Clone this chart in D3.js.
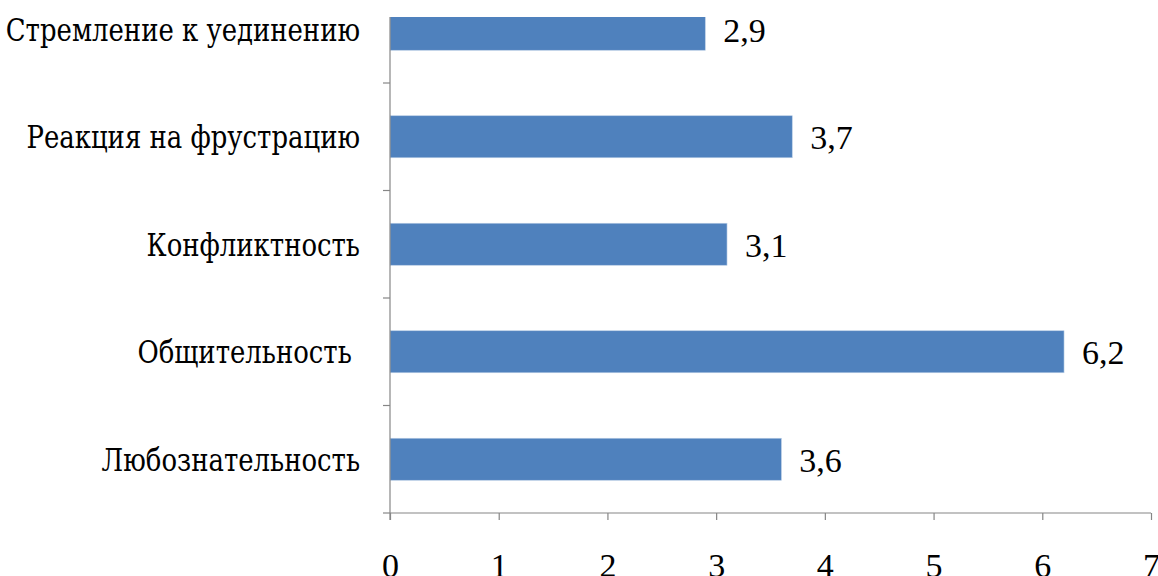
<!DOCTYPE html>
<html>
<head>
<meta charset="utf-8">
<script src="https://cdn.jsdelivr.net/npm/d3@7"></script>
<style>
  html, body { margin: 0; padding: 0; background: #fff; overflow: hidden; }
  svg { display: block; }
  text { font-family: "Liberation Serif", "Times New Roman", serif; fill: #000; }
  .cat { font-family: "DejaVu Serif Condensed", "DejaVu Serif", serif; font-stretch: condensed; }
</style>
</head>
<body>
<svg id="chart" width="1158" height="576"></svg>
<script>
const categories = ["Стремление к уединению", "Реакция на фрустрацию", "Конфликтность", "Общительность ", "Любознательность"];
const values = [2.9, 3.7, 3.1, 6.2, 3.6];
const xTicks = [0, 1, 2, 3, 4, 5, 6, 7];

const axisX = 390, axisRight = 1151;
const plotTop = 17, plotBottom = 513;
const fontSize = 34;
const catFontSize = 31;
const catSqueeze = 0.93;

const svg = d3.select("#chart");
const ru = d3.formatLocale({ decimal: ",", thousands: "\u00a0", grouping: [3], currency: ["", " ₽"] });
const fmt = ru.format(".1f");

const x = d3.scaleLinear().domain([0, 7]).range([axisX, axisRight]);
const y = d3.scaleBand().domain(categories).range([-24.5, plotBottom]).padding(0);
const step = y.step();
const barH = 42;
const barOff = (step - barH) / 2;

svg.append("clipPath").attr("id", "plotclip")
  .append("rect").attr("x", axisX).attr("y", plotTop).attr("width", axisRight - axisX + 10).attr("height", plotBottom - plotTop);

const data = categories.map((c, i) => ({ c, v: values[i] }));

svg.append("g").attr("clip-path", "url(#plotclip)")
  .selectAll("rect").data(data).join("rect")
  .attr("x", x(0))
  .attr("y", d => y(d.c) + barOff)
  .attr("width", d => x(d.v) - x(0))
  .attr("height", barH)
  .attr("fill", "#4F81BD")
  .attr("stroke", "#B9CDE5")
  .attr("stroke-width", 0.6);

const axisColor = "#868686";

svg.append("line")
  .attr("x1", axisX).attr("x2", axisX)
  .attr("y1", plotTop).attr("y2", plotBottom + 7)
  .attr("stroke", axisColor).attr("stroke-width", 1.2);

const yBounds = categories.map(c => y(c) + step).filter(v => v >= plotTop);
svg.append("g").selectAll("line").data(yBounds).join("line")
  .attr("x1", axisX - 7).attr("x2", axisX)
  .attr("y1", d => d).attr("y2", d => d)
  .attr("stroke", axisColor).attr("stroke-width", 1.2);

const xAxis = d3.axisBottom(x).tickValues(xTicks).tickSize(7).tickPadding(0).tickFormat(d => String(d));
const gx = svg.append("g").attr("transform", `translate(0,${plotBottom})`).call(xAxis);
gx.select(".domain").attr("stroke", axisColor).attr("stroke-width", 1.2).attr("d", `M${axisX},0H${axisRight}`);
gx.selectAll(".tick line").attr("stroke", axisColor).attr("stroke-width", 1.2);
gx.selectAll(".tick text")
  .attr("y", 64).attr("dy", null)
  .style("font-family", '"Liberation Serif", "Times New Roman", serif')
  .style("font-size", fontSize + "px")
  .attr("fill", "#000");

svg.append("g").attr("transform", `translate(360,0) scale(${catSqueeze},1)`)
  .selectAll("text").data(data).join("text")
  .attr("class", "cat")
  .attr("x", 0)
  .attr("y", d => y(d.c) + step / 2 + 11.5)
  .attr("text-anchor", "end")
  .style("white-space", "pre")
  .style("font-size", catFontSize + "px")
  .text(d => d.c);

svg.append("g").selectAll("text").data(data).join("text")
  .attr("x", d => x(d.v) + 18)
  .attr("y", d => y(d.c) + step / 2 + 12.5)
  .style("font-size", fontSize + "px")
  .text(d => fmt(d.v));
</script>
</body>
</html>
